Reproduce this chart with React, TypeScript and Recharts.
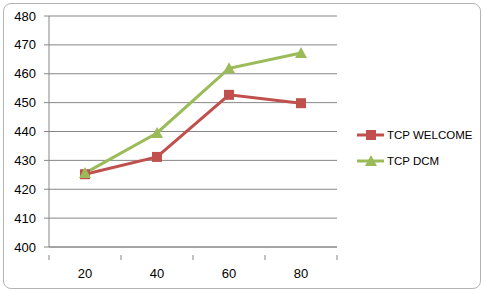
import { LineChart, Line, XAxis, YAxis, CartesianGrid } from 'recharts';

const categories = [20, 40, 60, 80];
const tcpWelcome = [425.2, 431.2, 452.7, 449.8];
const tcpDcm = [425.6, 439.5, 461.9, 467.2];
const yTicks = [400, 410, 420, 430, 440, 450, 460, 470, 480];
const xTicks = [10, 20, 30, 40, 50, 60, 70, 80, 90];
const seriesNames = ['TCP WELCOME', 'TCP DCM'];

const RED = '#C0504D';
const GREEN = '#9BBB59';
const AXIS = '#868686';
const FONT = '"Liberation Sans", Arial, sans-serif';

const chartData = categories.map((c, i) => ({
  x: c,
  welcome: tcpWelcome[i],
  dcm: tcpDcm[i],
}));

// square marker for the red series
const SquareDot = (props: any) => {
  const { cx, cy } = props;
  if (cx == null || cy == null) return null;
  return <rect x={cx - 5} y={cy - 5} width={10} height={10} fill={RED} />;
};

// triangle marker for the green series
const TriangleDot = (props: any) => {
  const { cx, cy } = props;
  if (cx == null || cy == null) return null;
  return (
    <polygon
      points={`${cx},${cy - 6} ${cx + 6},${cy + 5} ${cx - 6},${cy + 5}`}
      fill={GREEN}
    />
  );
};

// labels sit on the categories, tick marks between them (Excel style)
const XTick = (props: any) => {
  const { x, y, payload } = props;
  const v = payload.value;
  if (categories.includes(v)) {
    return (
      <text x={x} y={y + 20} textAnchor='middle' dominantBaseline='middle' fontSize={13} fill='#000' fontFamily={FONT}>
        {v}
      </text>
    );
  }
  return <line x1={x} y1={y} x2={x} y2={y + 5} stroke={AXIS} strokeWidth={1} />;
};

const ChartLegend = () => {
  const items = [
    { name: seriesNames[0], color: RED, shape: 'square' },
    { name: seriesNames[1], color: GREEN, shape: 'triangle' },
  ];
  return (
    <div style={{ position: 'absolute', left: 357, top: 122, fontFamily: FONT, fontSize: 11.5, color: '#000' }}>
      {items.map((it) => (
        <div key={it.name} style={{ display: 'flex', alignItems: 'center', height: 26 }}>
          <svg width={28} height={14} style={{ marginRight: 2 }}>
            <line x1={0} y1={7} x2={27} y2={7} stroke={it.color} strokeWidth={3} />
            {it.shape === 'square' ? (
              <rect x={9} y={2} width={10} height={10} fill={it.color} />
            ) : (
              <polygon points='14,1 20,12 8,12' fill={it.color} />
            )}
          </svg>
          <span>{it.name}</span>
        </div>
      ))}
    </div>
  );
};

const App = () => {
  return (
    <div style={{ position: 'fixed', left: 0, top: 0, width: 484, height: 292, background: '#fff' }}>
      <div
        style={{
          position: 'absolute',
          left: 3,
          top: 3,
          width: 476,
          height: 284,
          border: '1px solid #b4b4b4',
          borderRadius: 8,
        }}
      />
      <LineChart
        width={484}
        height={292}
        data={chartData}
        margin={{ top: 16, right: 147, bottom: 0, left: 0 }}
        style={{ position: 'absolute', left: 0, top: 0 }}
      >
        <CartesianGrid horizontal vertical={false} stroke={AXIS} strokeWidth={1} />
        <XAxis
          dataKey='x'
          type='number'
          domain={[10, 90]}
          ticks={xTicks}
          interval={0}
          height={45}
          tickLine={false}
          axisLine={{ stroke: AXIS }}
          tick={<XTick />}
        />
        <YAxis
          domain={[400, 480]}
          ticks={yTicks}
          width={49}
          interval={0}
          tickSize={5}
          tickMargin={8}
          axisLine={{ stroke: AXIS }}
          tickLine={{ stroke: AXIS }}
          tick={{ fontSize: 13, fill: '#000', fontFamily: FONT }}
        />
        <Line
          dataKey='welcome'
          name={seriesNames[0]}
          stroke={RED}
          strokeWidth={3}
          dot={<SquareDot />}
          activeDot={false}
          isAnimationActive={false}
        />
        <Line
          dataKey='dcm'
          name={seriesNames[1]}
          stroke={GREEN}
          strokeWidth={3}
          dot={<TriangleDot />}
          activeDot={false}
          isAnimationActive={false}
        />
      </LineChart>
      <ChartLegend />
    </div>
  );
};

export default App;
